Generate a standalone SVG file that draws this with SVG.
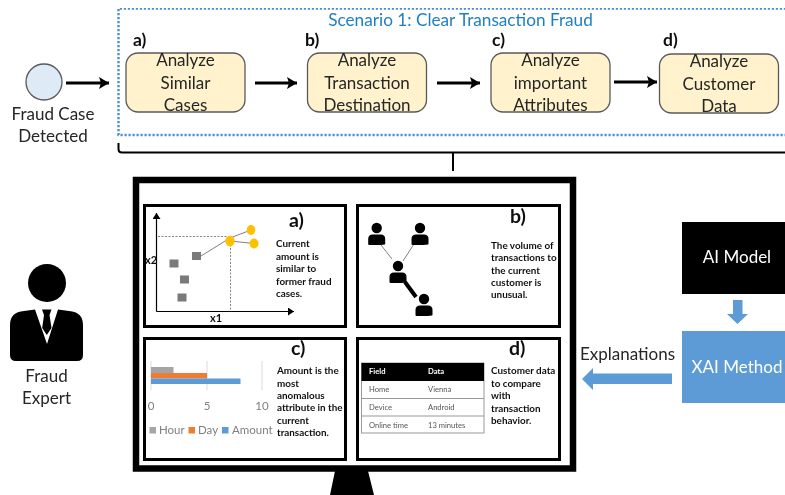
<svg xmlns="http://www.w3.org/2000/svg" width="785" height="495" viewBox="0 0 785 495">
<style>
text{font-family:Lato,"Liberation Sans",sans-serif;fill:#262626}
.m{text-anchor:middle}
.n{font-size:17px}
.l{font-size:17.5px;font-weight:700;fill:#111}
.pl{font-size:19.5px;font-weight:700;fill:#111}
.t{font-size:9.9px;font-weight:700;fill:#111}
.box{fill:#FFF2CC;stroke:#595959;stroke-width:1.3}
.p{fill:#fff;stroke:#000;stroke-width:3}
.c{fill:none;stroke:#000;stroke-width:3}
.ax{font-size:11.5px;fill:#7f7f7f}
.td{font-size:7.6px;fill:#555}
.th{font-size:7.6px;font-weight:700;fill:#fff}
.w{font-size:17px;fill:#fff}
.sq{fill:#7a7a7a}
.go{fill:#FFC000}
.gl{stroke:#808080;stroke-width:1;fill:none}
.da{stroke:#666;stroke-width:.8;stroke-dasharray:2 1.5;fill:none}
</style>
<defs>
<marker id="ah" markerUnits="userSpaceOnUse" markerWidth="11" markerHeight="12" refX="10" refY="6" orient="auto"><path d="M0 0L10 6L0 12L2 6Z" fill="#000"/></marker>
<marker id="sh" markerUnits="userSpaceOnUse" markerWidth="7" markerHeight="8" refX="6" refY="4" orient="auto"><path d="M0 0L6 4L0 8Z" fill="#000"/></marker>
<g id="user"><circle cx="0" cy="0" r="5.200" fill="#000"/><path d="M-8.500 16V11Q-8.500 6.500-4 6.500H4Q8.500 6.500 8.500 11V16Q8.500 17-1 17H-7.500Q-8.500 17-8.500 16Z" fill="#000"/></g>
<filter id="soft" x="0" y="0" width="100%" height="100%"><feGaussianBlur stdDeviation="0.35"/></filter>
</defs>
<rect width="785" height="495" fill="#fff"/>
<g filter="url(#soft)">
<g id="scenario">
<path d="M790 8.500H118.500V135H790" fill="none" stroke="#4A90D9" stroke-width="2.400" stroke-dasharray="2.200 1.800"/>
<text x="460.500" y="26" class="m" style="font-size:17.200px;fill:#1F7FC4">Scenario 1: Clear Transaction Fraud</text>
</g>
<g id="connectors">
<path class="c" marker-end="url(#ah)" d="M66 83H109"/>
<path class="c" marker-end="url(#ah)" d="M255 83H297"/>
<path class="c" marker-end="url(#ah)" d="M437 83H480"/>
<path class="c" marker-end="url(#ah)" d="M614 82H657"/>
<path d="M118.500 143V149Q118.500 152.500 122 152.500H790M453 152.500V171" fill="none" stroke="#000" stroke-width="2"/>
<path d="M733 300H742.500V314H748L737.500 324L727 314H733Z" fill="#5B9BD5"/>
<path d="M672 373.500V384H593V390L582 379L593 368V373.500Z" fill="#5B9BD5"/>
</g>
<g id="start">
<circle cx="44" cy="82" r="18" fill="#DEEAF6" stroke="#595959" stroke-width="1.300"/>
<text x="53" y="120" class="m n">Fraud Case</text>
<text x="53" y="142" class="m n">Detected</text>
</g>
<g id="step-a">
<text x="133" y="46" class="l">a)</text>
<rect x="126" y="53" width="119" height="59" rx="12" class="box"/>
<text x="185.500" y="66" class="m n">Analyze</text>
<text x="185.500" y="89" class="m n">Similar</text>
<text x="185.500" y="111" class="m n">Cases</text>
</g>
<g id="step-b">
<text x="305" y="46" class="l">b)</text>
<rect x="307.500" y="53" width="119" height="59" rx="12" class="box"/>
<text x="367" y="66" class="m n">Analyze</text>
<text x="367" y="89" class="m n">Transaction</text>
<text x="367" y="111" class="m n">Destination</text>
</g>
<g id="step-c">
<text x="492" y="46" class="l">c)</text>
<rect x="491" y="53" width="119" height="59" rx="12" class="box"/>
<text x="550.500" y="66" class="m n">Analyze</text>
<text x="550.500" y="89" class="m n">important</text>
<text x="550.500" y="111" class="m n">Attributes</text>
</g>
<g id="step-d">
<text x="663" y="46" class="l">d)</text>
<rect x="659.500" y="54" width="119" height="59" rx="12" class="box"/>
<text x="719" y="67" class="m n">Analyze</text>
<text x="719" y="90" class="m n">Customer</text>
<text x="719" y="112" class="m n">Data</text>
</g>
<g id="monitor">
<path d="M335 471H368L374 495H330Z" fill="#000"/>
<rect x="136" y="180" width="437" height="288.500" fill="#fff" stroke="#000" stroke-width="6.500"/>
</g>
<g id="panel-a">
<rect x="144.500" y="205.500" width="201" height="121" class="p"/>
<path class="da" d="M158 236.500H230M230.500 241V311"/>
<path d="M156.500 311.500V213" fill="none" stroke="#000" stroke-width="1.200" marker-end="url(#sh)"/>
<path d="M156.500 311.500H294" fill="none" stroke="#000" stroke-width="1.200" marker-end="url(#sh)"/>
<path class="gl" d="M201 256L230 238L251 230M230 241L254 243.500"/>
<rect x="192" y="252" width="9" height="8" class="sq"/>
<rect x="169.500" y="259.500" width="9" height="8" class="sq"/>
<rect x="180" y="275.500" width="9" height="8" class="sq"/>
<rect x="177.500" y="293.500" width="9" height="8" class="sq"/>
<ellipse cx="230" cy="241" rx="4.700" ry="5.200" class="go"/>
<ellipse cx="251" cy="230" rx="4.300" ry="5" class="go"/>
<ellipse cx="254" cy="243.500" rx="4.500" ry="5" class="go"/>
<text x="145" y="264" style="font-size:11px;fill:#111;font-weight:700">x2</text>
<text x="210" y="322" style="font-size:11px;fill:#111;font-weight:700">x1</text>
<text x="289" y="227" class="pl">a)</text>
<text x="276" y="247" class="t">Current</text>
<text x="276" y="259.500" class="t">amount is</text>
<text x="276" y="272" class="t">similar to</text>
<text x="276" y="284.500" class="t">former fraud</text>
<text x="276" y="297" class="t">cases.</text>
</g>
<g id="panel-b">
<rect x="357.500" y="205.500" width="202" height="121" class="p"/>
<path class="gl" d="M381 245L392 259M414 244L403 261"/>
<path d="M405 282L416 297" stroke="#000" stroke-width="4" fill="none"/>
<use href="#user" x="376.700" y="228"/>
<use href="#user" x="420" y="228"/>
<use href="#user" x="398" y="266"/>
<use href="#user" x="424" y="299"/>
<text x="510" y="223" class="pl">b)</text>
<text x="491" y="249" class="t">The volume of</text>
<text x="491" y="261" class="t">transactions to</text>
<text x="491" y="273.500" class="t">the current</text>
<text x="491" y="286" class="t">customer is</text>
<text x="491" y="298" class="t">unusual.</text>
</g>
<g id="panel-c">
<rect x="144.500" y="338.500" width="201" height="121" class="p"/>
<path d="M151 361V390M207 361V390M262 361V390" stroke="#d9d9d9" stroke-width="1" fill="none"/>
<rect x="151" y="367" width="22.500" height="6" fill="#A5A5A5"/>
<rect x="151" y="373" width="56" height="5.500" fill="#ED7D31"/>
<rect x="151" y="378.500" width="89.500" height="5.500" fill="#5B9BD5"/>
<text x="151" y="410" class="m ax">0</text>
<text x="207" y="410" class="m ax">5</text>
<text x="262" y="410" class="m ax">10</text>
<rect x="149.500" y="427" width="6.500" height="6.500" fill="#A5A5A5"/>
<text x="159" y="434" class="ax">Hour</text>
<rect x="188.500" y="427" width="6.500" height="6.500" fill="#ED7D31"/>
<text x="198" y="434" class="ax">Day</text>
<rect x="222" y="427" width="6.500" height="6.500" fill="#5B9BD5"/>
<text x="232" y="434" class="ax">Amount</text>
<text x="291" y="355" class="pl">c)</text>
<text x="277" y="374" class="t">Amount is the</text>
<text x="277" y="386.500" class="t">most</text>
<text x="277" y="398.500" class="t">anomalous</text>
<text x="277" y="411" class="t">attribute in the</text>
<text x="277" y="423.500" class="t">current</text>
<text x="277" y="436" class="t">transaction.</text>
</g>
<g id="panel-d">
<rect x="357.500" y="338.500" width="202" height="121" class="p"/>
<rect x="361.500" y="363" width="122.500" height="70" fill="#fff" stroke="#999" stroke-width="1"/>
<rect x="361.500" y="363" width="122.500" height="18" fill="#000"/>
<path d="M361.500 398.500H484M361.500 416H484" stroke="#999" stroke-width="1" fill="none"/>
<text x="369" y="374" class="th">Field</text>
<text x="428" y="374" class="th">Data</text>
<text x="369" y="392" class="td">Home</text>
<text x="428" y="392" class="td">Vienna</text>
<text x="369" y="410" class="td">Device</text>
<text x="428" y="410" class="td">Android</text>
<text x="369" y="427.500" class="td">Online time</text>
<text x="428" y="427.500" class="td">13 minutes</text>
<text x="509" y="355" class="pl">d)</text>
<text x="491" y="374" class="t">Customer data</text>
<text x="491" y="387" class="t">to compare</text>
<text x="491" y="399" class="t">with</text>
<text x="491" y="411.500" class="t">transaction</text>
<text x="491" y="424" class="t">behavior.</text>
</g>
<g id="ai-model">
<rect x="682" y="222" width="103" height="72" fill="#000"/>
<text x="737" y="263" class="m w">AI Model</text>
</g>
<g id="xai-method">
<rect x="682" y="331" width="103" height="72" fill="#5B9BD5"/>
<text x="737" y="373" class="m w">XAI Method</text>
</g>
<text x="627.500" y="360" class="m n">Explanations</text>
<g id="expert">
<circle cx="47" cy="283" r="19" fill="#000"/>
<path d="M10 325Q10 312 24 311L35 309.500L47 344L58 309.500L69 311Q83 312 83 325V355Q83 361 77 361H16Q10 361 10 355Z" fill="#000"/>
<path d="M42 309.500H51.500L49.500 315L51.500 328L46.800 335L42.200 328L44 315Z" fill="#000"/>
<text x="46.500" y="382" class="m n">Fraud</text>
<text x="46.500" y="404" class="m n">Expert</text>
</g>
</g>
</svg>
